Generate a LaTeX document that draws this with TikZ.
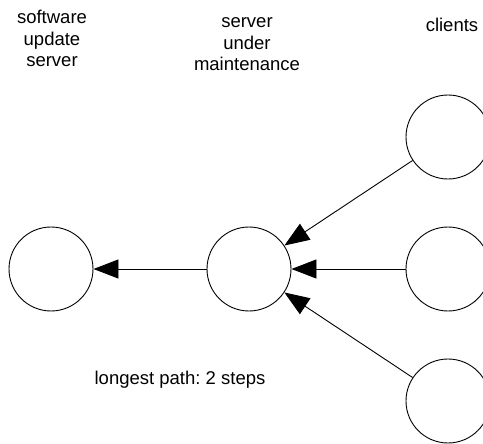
\documentclass[tikz,border=0pt]{standalone}
\usepackage{fontspec}
\setmainfont{Liberation Sans}
\usetikzlibrary{arrows.meta}
\frenchspacing
\begin{document}
\begin{tikzpicture}[x=1pt,y=-1pt,
  host/.style={draw=black, line width=0.9pt, circle, minimum size=84pt, inner sep=0pt},
  flow/.style={draw=black, line width=0.9pt, -{Triangle[length=25pt,width=19pt]}, shorten >=0pt},
  caption/.style={align=center, font=\fontsize{18.5}{21.5}\selectfont, inner sep=0pt}]
  \useasboundingbox (0,0) rectangle (483,444);

  % hosts
  \node[host] (update) at (51,269) {};
  \node[host] (maint)  at (249,269) {};
  \node[host] (c1)     at (448,137) {};
  \node[host] (c2)     at (448,269) {};
  \node[host] (c3)     at (448,401) {};

  % labels
  \node[caption] (lu) at (52,38.5) {software\\update\\server};
  \node[caption] (lm) at (247,44.5) {server\\under\\maintenance};
  \node[caption] (lc) at (452,25) {clients};
  \node[caption] (lp) at (180,380) {longest path: 2 steps};

  % dependencies
  \draw[flow] (maint) -- (update);
  \draw[flow] (c1) -- (maint);
  \draw[flow] (c2) -- (maint);
  \draw[flow] (c3) -- (maint);
\end{tikzpicture}
\end{document}
